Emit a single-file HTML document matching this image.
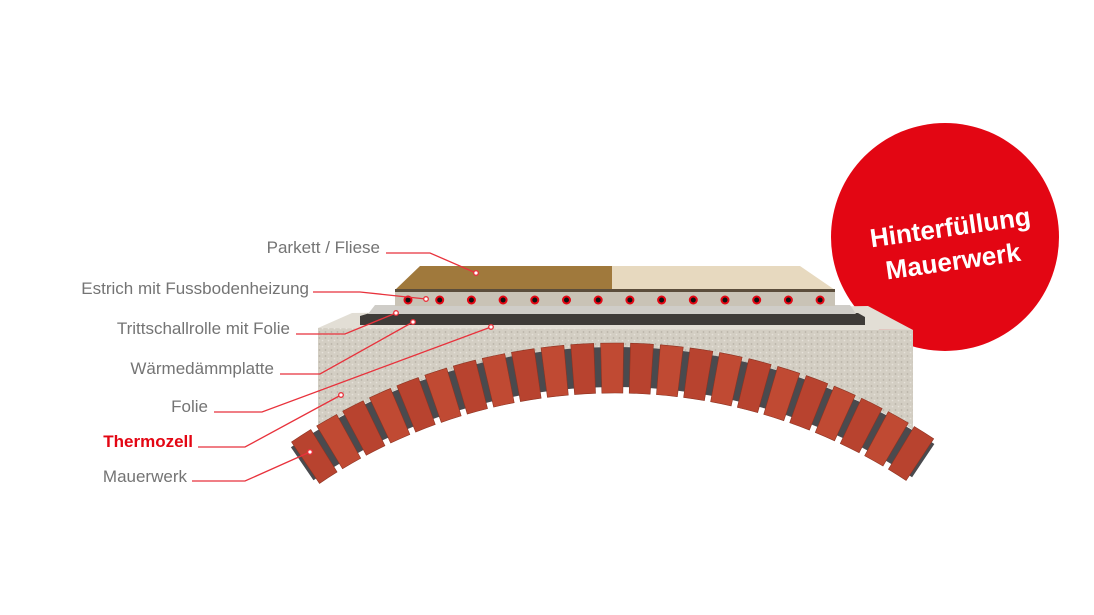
<!DOCTYPE html>
<html><head><meta charset="utf-8"><style>
html,body{margin:0;padding:0;background:#fff;width:1094px;height:615px;overflow:hidden}
svg{display:block}
text{font-family:"Liberation Sans",sans-serif}
</style></head><body>
<svg id="s" width="1094" height="615" viewBox="0 0 1094 615" xmlns="http://www.w3.org/2000/svg">
<defs>
<pattern id="cn" width="6" height="6" patternUnits="userSpaceOnUse">
<rect width="6" height="6" fill="#d3cec3"/><circle cx="1.5" cy="2" r="0.9" fill="#b9b3a7"/><circle cx="4.5" cy="4.6" r="0.8" fill="#e6e2da"/>
</pattern>
</defs>
<circle cx="945" cy="237" r="114" fill="#e30613"/>
<g transform="rotate(-8 945 240)" fill="#fff" font-weight="bold" font-size="26" text-anchor="middle">
<text x="952" y="237">Hinterfüllung</text>
<text x="950" y="271">Mauerwerk</text>
</g>
<polygon points="318,328 352,313 868,306 913,330" fill="#e2ded5"/>
<path id="conc" d="" fill="url(#cn)"/>
<polygon points="360,325 360,316 370,313 858,313 865,317 865,325" fill="#3e3b38"/>
<polygon points="368,314 375,305 850,305 856,314" fill="#cfcdc8"/>
<rect x="395" y="291" width="440" height="15" fill="#c9c3b6"/>
<polygon points="395,290 420,266 612,266 612,290" fill="#a0793c"/>
<polygon points="612,290 612,266 800,266 835,290" fill="#e7d9bf"/>
<rect x="395" y="289" width="440" height="3" fill="#5b4d3b"/>
<g id="pipes"></g>
<g id="arch"></g>
<g font-size="17" fill="#747474" text-anchor="end">
<text x="380" y="253">Parkett / Fliese</text>
<text x="309" y="294">Estrich mit Fussbodenheizung</text>
<text x="290" y="334">Trittschallrolle mit Folie</text>
<text x="274" y="374">Wärmedämmplatte</text>
<text x="208" y="412">Folie</text>
<text x="193" y="447" fill="#e30613" font-weight="bold">Thermozell</text>
<text x="187" y="482">Mauerwerk</text>
</g>
<g stroke="#e8323c" stroke-width="1.3" fill="none">
<polyline points="386,253 430,253 476,273"/>
<polyline points="313,292 360,292 426,299"/>
<polyline points="296,334 345,334 396,313"/>
<polyline points="280,374 320,374 413,322"/>
<polyline points="214,412 262,412 491,327"/>
<polyline points="198,447 245,447 341,395"/>
<polyline points="192,481 245,481 310,452"/>
</g>
<g fill="#fff" stroke="#e8323c" stroke-width="1.3">
<circle cx="476" cy="273" r="2.3"/><circle cx="426" cy="299" r="2.3"/><circle cx="396" cy="313" r="2.3"/>
<circle cx="413" cy="322" r="2.3"/><circle cx="491" cy="327" r="2.3"/><circle cx="341" cy="395" r="2.3"/><circle cx="310" cy="452" r="2.3"/>
</g>
</svg>
<script>
var cx=615,cy=921,Ro=578,Ri=528;
function pt(r,a){return [cx+r*Math.sin(a),cy-r*Math.cos(a)];}
var d="M318,328 L913,330 L913,425 ";
for(var x=913;x>=318;x-=5){var y=cy-Math.sqrt(Ro*Ro-(x-cx)*(x-cx))+4;d+="L"+x+","+y.toFixed(1)+" ";}
d+="Z";document.getElementById("conc").setAttribute("d",d);
var pg=document.getElementById("pipes"),h="";
for(var i=0;i<14;i++){var px=408+i*31.7;h+='<circle cx="'+px+'" cy="300" r="4.5" fill="#e30613"/><circle cx="'+px+'" cy="300" r="2.5" fill="#111"/>';}
pg.innerHTML=h;
var ag=document.getElementById("arch"),s="";
var a0=-0.60,a1=0.59,n=23,step=(a1-a0)/n;
function band(r1,r2,b0,b1){var p1=pt(r1,b0),p2=pt(r1,b1),p3=pt(r2,b1),p4=pt(r2,b0);
return "M"+p1+" A"+r1+","+r1+" 0 0 1 "+p2+" L"+p3+" A"+r2+","+r2+" 0 0 0 "+p4+" Z";}
s+='<path d="'+band(Ro-4,Ri+6,a0,a1)+'" fill="#4a4a4e"/>';
for(var i=0;i<n;i++){var b0=a0+i*step+0.006,b1=a0+(i+1)*step-0.006;
s+='<path d="'+band(Ro,Ri,b0,b1)+'" fill="'+(i%2?"#c04a33":"#b8432f")+'" stroke="#8d3322" stroke-width="0.6"/>';}
ag.innerHTML=s;
</script>
</body></html>
